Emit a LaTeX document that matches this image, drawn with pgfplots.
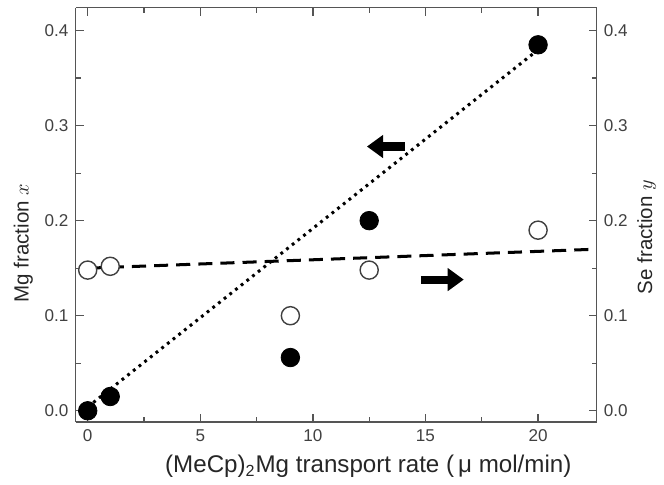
\documentclass[border=0pt]{standalone}
\usepackage{fontspec}
\setmainfont{Liberation Sans}
\usepackage{pgfplots}
\pgfplotsset{compat=1.18}
\usetikzlibrary{arrows.meta}
\definecolor{frame}{HTML}{555555}

\begin{document}
\begin{tikzpicture}[font=\rmfamily]
\pgfplotsset{
  common/.style={
    scale only axis, width=259pt, height=206pt,
    xmin=-0.54, xmax=22.6, ymin=-0.012, ymax=0.424,
    tick align=inside, axis line style={frame, line width=0.7pt},
    tick style={frame, line width=0.6pt},
    major tick length=4pt, minor tick length=2.5pt,
    tick label style={font=\fontsize{8.5}{10}\selectfont, text=black!75},
    label style={font=\fontsize{10.2}{12}\selectfont, text=black!85},
    ytick={0,0.1,0.2,0.3,0.4}, minor ytick={0.05,0.15,0.25,0.35},
    yticklabel style={/pgf/number format/fixed, /pgf/number format/fixed zerofill,
                      /pgf/number format/precision=1},
    /pgf/number format/assume math mode=true,
  },
}
\begin{axis}[common,
  axis y line*=left, axis x line*=box, xtick pos=both,
  xtick={0,5,10,15,20}, minor xtick={2.5,7.5,12.5,17.5},
  xlabel={(MeCp)\textsubscript{2}Mg transport rate (\,μ mol/min)},
  ylabel={Mg fraction $x$},
  xlabel style={font=\fontsize{12}{14}\selectfont, xshift=16pt, yshift=0pt},
  ylabel style={xshift=-14pt, yshift=-1pt},
  clip=false]
% fits
\addplot[black, line width=1.5pt, dash pattern=on 1.4pt off 2.2pt]
  coordinates {(0,0.004) (19.8,0.376)};
\addplot[black, line width=1.5pt, dash pattern=on 7pt off 4pt]
  coordinates {(0,0.150) (22.6,0.170)};
% Se fraction (open)
\addplot[only marks, mark=*, mark size=4.5pt,
  mark options={draw=black!75, fill=white, line width=0.7pt}]
  coordinates {(0,0.148) (1,0.152) (9,0.100) (12.5,0.148) (20,0.190)};
% Mg fraction (filled)
\addplot[only marks, mark=*, mark size=4.6pt,
  mark options={draw=black, fill=black}]
  coordinates {(0,0.0) (1,0.015) (9,0.056) (12.5,0.200) (20,0.385)};
% arrows
\draw[-{Triangle[length=8pt,width=11pt]}, line width=4pt]
  (axis cs:14.1,0.278) -- (axis cs:12.4,0.278);
\draw[-{Triangle[length=8pt,width=11pt]}, line width=4pt]
  (axis cs:14.8,0.138) -- (axis cs:16.7,0.138);
\end{axis}
\begin{axis}[common,
  axis y line*=right, axis x line=none,
  ylabel={Se fraction $y$},
  ylabel style={xshift=-11pt, yshift=2pt}]
\end{axis}
\path ([xshift=-3.5pt]current bounding box.south west)
  rectangle ([xshift=0.6pt, yshift=3.5pt]current bounding box.north east);
\end{tikzpicture}
\end{document}
